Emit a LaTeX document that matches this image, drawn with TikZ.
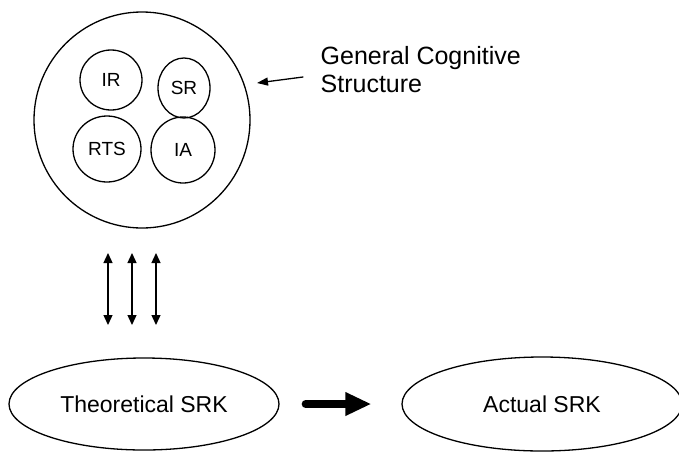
\documentclass[tikz,border=0pt]{standalone}
\usepackage{fontspec}
\setmainfont{Liberation Sans}
\usetikzlibrary{arrows.meta}
\usetikzlibrary{shapes.geometric}

\tikzset{
  blob/.style={draw,ellipse,inner sep=0pt},
  small/.style={font=\fontsize{19}{22}\selectfont},
  big/.style={font=\fontsize{23}{26}\selectfont},
}

\begin{document}
\begin{tikzpicture}[line cap=round,line join=round,>={Triangle[length=10pt,width=9pt]},x=1pt,y=-1pt,line width=1.3pt]
\useasboundingbox (0,0) rectangle (679,453);
% the general cognitive structure
\node[draw,circle,minimum size=216pt,inner sep=0pt] (gcs) at (142,120) {};
\node[blob,small,minimum width=62pt,minimum height=60pt] (ir) at (111,80) {IR};
\node[blob,small,minimum width=52pt,minimum height=60pt] (sr) at (184,88) {SR};
\node[blob,small,minimum width=68pt,minimum height=66pt] (rts) at (107,149) {RTS};
\node[blob,small,minimum width=64pt,minimum height=66pt] (ia) at (183,150) {IA};
%
\node[font=\fontsize{25}{28}\selectfont,anchor=west,align=left,inner sep=0pt] (gcslabel) at (320,70) {General Cognitive\\Structure};
\coordinate (tail) at (303,77);
\coordinate (tip) at (257,83);
\draw[-{Triangle[length=11pt,width=8pt]}] (tail) -- (tip);
%
\foreach \x [count=\i] in {108,132,156} {
  \coordinate (top\i) at (\x,253);
  \coordinate (bot\i) at (\x,325);
  \draw[<->] (top\i) -- (bot\i);
}
%
\node[blob,big,minimum width=270pt,minimum height=92pt] (theo) at (144,404) {Theoretical SRK};
\node[blob,big,minimum width=280pt,minimum height=94pt] (act) at (542,404) {Actual SRK};
\draw[line width=8pt,-{Triangle[length=26pt,width=22pt]}] ([xshift=26pt]theo.east) -- ([xshift=-30pt]act.west);
\end{tikzpicture}
\end{document}
